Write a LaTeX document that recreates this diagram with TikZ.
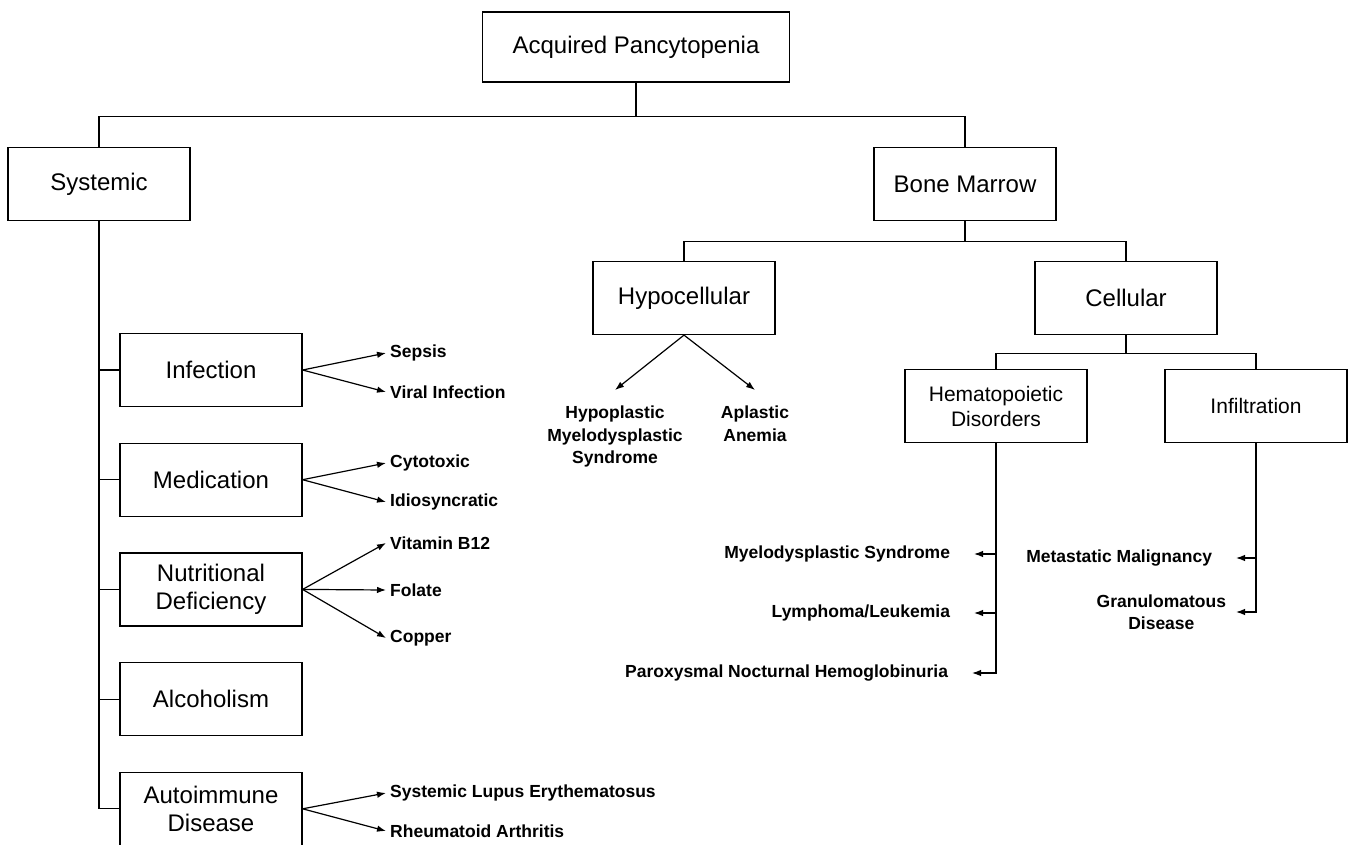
\documentclass[tikz,border=0pt]{standalone}
\usepackage{fontspec}
\setmainfont{Liberation Sans}
\usetikzlibrary{positioning,arrows.meta}

\tikzstyle{block} = [rectangle, minimum width=182pt, minimum height=73pt, text centered, draw=black, align=center, line width=1.2pt, font=\fontsize{24}{28}\selectfont]
\tikzstyle{leaf} = [inner sep=4pt, align=center, font=\fontsize{17.5}{22.5}\selectfont\bfseries]
\tikzstyle{leafr} = [leaf, anchor=east, outer xsep=20pt]
\tikzstyle{line} = [line width=1.2pt]
\tikzstyle{arrow} = [line width=1.2pt,-{Latex[length=9pt,width=6.5pt]}]

\begin{document}
\begin{tikzpicture}[x=1pt, y=-1pt, node distance=35.5pt]
\useasboundingbox (0,0) rectangle (1352,844);

% Define nodes
\node (acq) [block, minimum width=307pt, minimum height=70pt] at (636,47) {Acquired Pancytopenia};
\node (sys) [block] at (99,184) {Systemic};
\node (bm) [block] at (965,184) {Bone Marrow};
\node (hypo) [block] at (684,298) {Hypocellular};
\node (cell) [block] at (1126,298) {Cellular};
\node (hema) [block, font=\fontsize{21}{25}\selectfont] at (996,406) {Hematopoietic\\Disorders};
\node (infil) [block, font=\fontsize{21}{25}\selectfont] at (1256,406) {Infiltration};

\node (inf) [block] at (211,370) {Infection};
\node (med) [block, below=of inf] {Medication};
\node (nut) [block, below=of med] {Nutritional\\Deficiency};
\node (alc) [block, below=of nut] {Alcoholism};
\node (auto) [block, below=of alc] {Autoimmune\\Disease};

% Leaves
\node (sepsis) [leaf, anchor=west] at (386,353) {Sepsis};
\node (viral) [leaf, anchor=west] at (386,392) {Viral Infection};
\node (cyto) [leaf, anchor=west] at (386,463) {Cytotoxic};
\node (idio) [leaf, anchor=west] at (386,502) {Idiosyncratic};
\node (vitb) [leaf, anchor=west] at (386,543) {Vitamin B12};
\node (folate) [leaf, anchor=west] at (386,590) {Folate};
\node (copper) [leaf, anchor=west] at (386,638) {Copper};
\node (sle) [leaf, anchor=west] at (386,793) {Systemic Lupus Erythematosus};
\node (ra) [leaf, anchor=west] at (386,831) {Rheumatoid Arthritis};

\node (hmds) [leaf, anchor=north, outer ysep=12pt] at (615,390) {Hypoplastic\\Myelodysplastic\\Syndrome};
\node (aplastic) [leaf, anchor=north, outer ysep=12pt] at (755,390) {Aplastic\\Anemia};

\node (mds) [leafr] at (974,554) {Myelodysplastic Syndrome};
\node (lymph) [leafr] at (974,613) {Lymphoma/Leukemia};
\node (pnh) [leafr] at (972,673) {Paroxysmal Nocturnal Hemoglobinuria};
\node (meta) [leafr] at (1236,558) {Metastatic Malignancy};
\node (gran) [leafr, outer xsep=6pt] at (1236,612) {Granulomatous\\Disease};

% Draw lines
\draw [line] (acq.south) -- ++(0,34) -| (sys.north);
\draw [line] (acq.south) -- ++(0,34) -| (bm.north);
\draw [line] (bm.south) -- ++(0,20) -| (hypo.north);
\draw [line] (bm.south) -- ++(0,20) -| (cell.north);
\draw [line] (cell.south) -- ++(0,18) -| (hema.north);
\draw [line] (cell.south) -- ++(0,18) -| (infil.north);
\draw [line] (sys.south) |- (inf.west);
\draw [line] (sys.south) |- (med.west);
\draw [line] (sys.south) |- (nut.west);
\draw [line] (sys.south) |- (alc.west);
\draw [line] (sys.south) |- (auto.west);

% Draw arrows
\draw [arrow] (inf.east) -- (sepsis.west);
\draw [arrow] (inf.east) -- (viral.west);
\draw [arrow] (med.east) -- (cyto.west);
\draw [arrow] (med.east) -- (idio.west);
\draw [arrow] (nut.east) -- (vitb.west);
\draw [arrow] (nut.east) -- (folate.west);
\draw [arrow] (nut.east) -- (copper.west);
\draw [arrow] (auto.east) -- (sle.west);
\draw [arrow] (auto.east) -- (ra.west);
\draw [arrow] (hypo.south) -- (hmds.north);
\draw [arrow] (hypo.south) -- (aplastic.north);
\draw [arrow] (hema.south) |- (mds.east);
\draw [arrow] (hema.south) |- (lymph.east);
\draw [arrow] (hema.south) |- (pnh.east);
\draw [arrow] (infil.south) |- (meta.east);
\draw [arrow] (infil.south) |- (gran.east);

\end{tikzpicture}
\end{document}
